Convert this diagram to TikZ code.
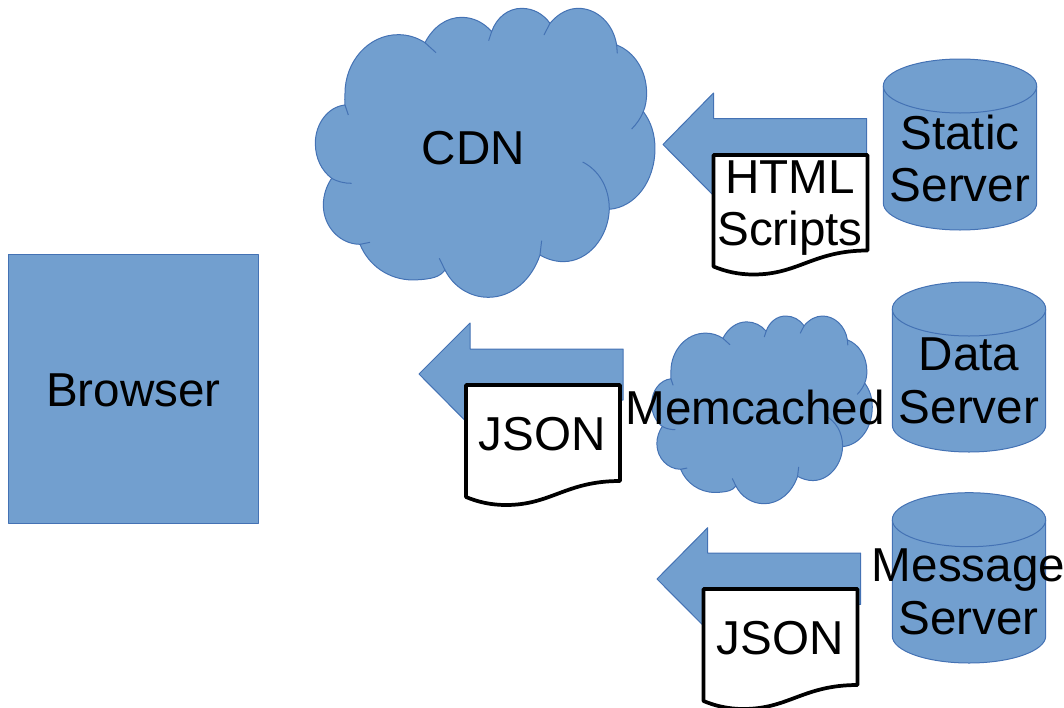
\documentclass[tikz,border=0pt]{standalone}
\usepackage{fontspec}
\setmainfont{Liberation Sans}
\definecolor{boxblue}{HTML}{729FCF}
\definecolor{edgeblue}{HTML}{4472B4}
\tikzset{
  blueshape/.style={draw=edgeblue,fill=boxblue,line width=0.75pt,line join=round},
  bluetick/.style={draw=edgeblue,line width=0.75pt},
  docshape/.style={draw=black,fill=white,line width=2.8pt,line join=round},
  bigtext/.style={inner sep=0pt,align=center,font=\fontsize{35.7}{39.6}\selectfont},
}
% cloud outline, in zoomed pixels
\newcommand{\cloudlobes}{
\draw [blueshape] (135,315) .. controls (134,305) and (134,295) .. (135,280) .. controls (135,185) and (205,104) .. (295,104) .. controls (325,104) and (352,113) .. (375,128) .. controls (400,80) and (440,52) .. (485,52) .. controls (520,52) and (552,68) .. (575,95) .. controls (590,52) and (625,25) .. (665,25) .. controls (700,25) and (730,42) .. (750,70) .. controls (775,40) and (805,25) .. (835,25) .. controls (890,25) and (940,70) .. (950,135) .. controls (1003,155) and (1040,212) .. (1040,280) .. controls (1040,300) and (1037,318) .. (1030,335) .. controls (1053,365) and (1065,403) .. (1065,445) .. controls (1065,545) and (1005,622) .. (928,628) .. controls (925,712) and (865,785) .. (790,785) .. controls (765,785) and (740,777) .. (720,765) .. controls (695,840) and (635,892) .. (565,892) .. controls (510,892) and (460,860) .. (435,810) .. controls (420,830) and (400,838) .. (340,840) .. controls (265,840) and (205,795) .. (180,733) .. controls (120,733) and (70,680) .. (70,615) .. controls (70,585) and (80,557) .. (95,535) .. controls (65,512) and (46,475) .. (46,430) .. controls (46,370) and (85,320) .. (135,315) -- cycle ;
\draw [bluetick] (135,315) -- (145,345) ;
\draw [bluetick] (375,128) -- (408,158) ;
\draw [bluetick] (575,95) -- (566,122) ;
\draw [bluetick] (750,70) -- (732,105) ;
\draw [bluetick] (950,135) -- (952,160) ;
\draw [bluetick] (1030,335) .. controls (1022,355) and (1010,372) .. (995,387) ;
\draw [bluetick] (928,628) .. controls (928,560) and (895,510) .. (848,486) ;
\draw [bluetick] (720,765) -- (725,722) ;
\draw [bluetick] (435,810) -- (418,775) ;
\draw [bluetick] (180,733) -- (210,727) ;
\draw [bluetick] (95,535) .. controls (112,545) and (133,550) .. (155,550) ;
}
% page with a wavy foot, width 154
\newcommand{\paperfoot}[1]{
\draw [docshape] (0,0) -- (154,0) -- (154,#1) .. controls (100,#1) and (85,#1+24) .. (40,#1+24) .. controls (25,#1+24) and (12,#1+21) .. (0,#1+16) -- cycle ;
}
\begin{document}
\begin{tikzpicture}[x=0.75pt,y=0.75pt,yscale=-1,xscale=1]
\useasboundingbox (0,0) rectangle (1064,707);

%Browser
\draw [blueshape] (8.5,254) rectangle (258,523.5) ;

%Clouds
\begin{scope}[shift={(300,0)},scale=0.3333]
\cloudlobes
\end{scope}
\begin{scope}[shift={(641.7,310.6)},scale=0.2165]
\cloudlobes
\end{scope}

%Arrows
\draw [blueshape] (663,144.5) -- (713.5,93) -- (713.5,118.5) -- (866.7,118.5) -- (866.7,170) -- (713.5,170) -- (713.5,195.5) -- cycle ;
\draw [blueshape] (419,374) -- (470,323) -- (470,349) -- (623,349) -- (623,400) -- (470,400) -- (470,425.5) -- cycle ;
\draw [blueshape] (657,579) -- (707.7,527.7) -- (707.7,553) -- (860.7,553) -- (860.7,604.3) -- (707.7,604.3) -- (707.7,630) -- cycle ;

%Pages
\begin{scope}[shift={(713.5,155)}]
\paperfoot{95.5}
\end{scope}
\begin{scope}[shift={(466,385)}]
\paperfoot{96}
\end{scope}
\begin{scope}[shift={(703.5,589)}]
\paperfoot{96}
\end{scope}

%Cylinders
\foreach \cx/\cy/\cyb in {960/86/203, 969/309/425, 969/519.7/636}{
\draw [blueshape] (\cx-76.7,\cy) -- (\cx-76.7,\cyb) arc [start angle=180,end angle=0,x radius=76.7,y radius=27] -- (\cx+76.7,\cy) arc [start angle=0,end angle=-180,x radius=76.7,y radius=27] -- cycle ;
\draw [bluetick] (\cx-76.7,\cy) arc [start angle=180,end angle=0,x radius=76.7,y radius=27] ;
}

% Text Node
\node (browser) [bigtext] at (133.5,390) {Browser};
\node (cdn) [bigtext] at (473.5,148) {CDN};
\node (memcached) [bigtext] at (755,407) {Memcached};
\node (static) [bigtext] at (960,158.5) {Static\\Server};
\node (data) [bigtext] at (969,381) {Data\\Server};
\node (message) [bigtext] at (968.5,592) {Message\\Server};
\node (scripts) [bigtext] at (790,208) {HTML\\Scripts};
\node (jsona) [bigtext] at (542,434.5) {JSON};
\node (jsonb) [bigtext] at (780,638) {JSON};

\end{tikzpicture}
\end{document}
